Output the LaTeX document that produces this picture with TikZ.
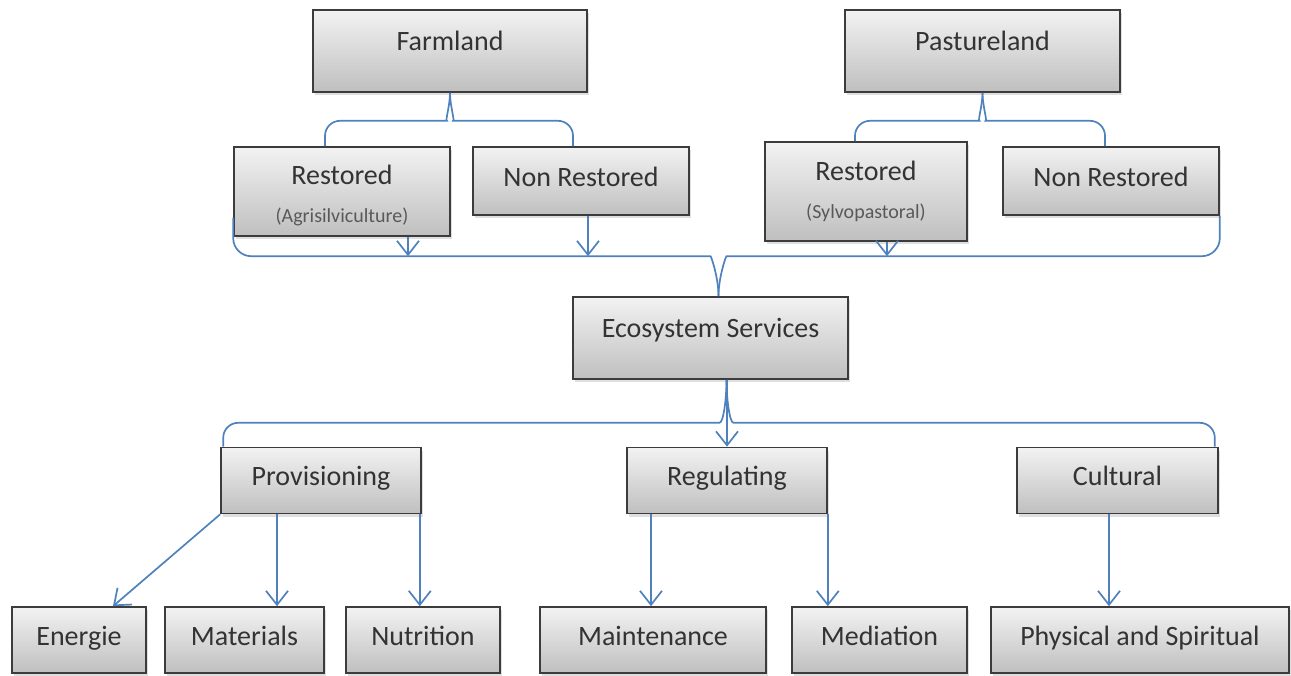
\documentclass[tikz,border=0pt]{standalone}
\usepackage{fontspec}
\setmainfont{Carlito}
\usepackage{tikz}
\usetikzlibrary{positioning, arrows.meta, shadows}

\definecolor{linkblue}{HTML}{4F81BD}
\definecolor{boxline}{HTML}{3C3C3C}

\begin{document}
\begin{tikzpicture}[x=1pt, y=1pt,
    box/.style={draw=boxline, line width=1.6pt, top color=gray!10, bottom color=gray!50,
        drop shadow={shadow xshift=2pt, shadow yshift=-3pt, opacity=0.25},
        align=center, font=\fontsize{28}{30}\selectfont, text=black!80, inner sep=2pt},
    onebox/.style={box, minimum height=66pt, text height=20pt, text depth=10pt},
    topbox/.style={box, minimum height=82pt, text height=20pt, text depth=22pt},
    link/.style={draw=linkblue, line width=1.7pt},
    arr/.style={link, -{Straight Barb[length=14pt, width=22pt]}}
]
\useasboundingbox (0,0) rectangle (1291,-675);

\node[topbox, minimum width=274pt] (farm) at (450,-51) {Farmland};
\node[topbox, minimum width=275pt] (past) at (982.5,-51) {Pastureland};

\node[box, minimum width=216pt, minimum height=89pt] (ragri) at (342,-191.5) {\rule{0pt}{28pt}Restored\\[8pt]{\fontsize{20}{22}\selectfont\color{black!65}(Agrisilviculture)}};
\node[onebox, minimum width=216pt, minimum height=68pt] (nrf) at (581,-181) {Non Restored};
\node[box, minimum width=202pt, minimum height=99pt] (rsyl) at (866,-191.5) {Restored\\[8pt]{\fontsize{20}{22}\selectfont\color{black!65}(Sylvopastoral)}};
\node[onebox, minimum width=216pt, minimum height=68pt] (nrp) at (1111,-181) {Non Restored};

\node[topbox, minimum width=275pt] (eco) at (710.5,-338) {Ecosystem Services};

\node[onebox, minimum width=200pt] (prov) at (321,-480.5) {Provisioning};
\node[onebox, minimum width=200pt] (reg) at (727,-480.5) {Regulating};
\node[onebox, minimum width=201pt] (cult) at (1117.5,-480.5) {Cultural};

\node[onebox, minimum width=134pt] (energ) at (79,-640) {Energie};
\node[onebox, minimum width=159pt] (mat) at (244.5,-640) {Materials};
\node[onebox, minimum width=154pt] (nutr) at (423,-640) {Nutrition};
\node[onebox, minimum width=226pt] (maint) at (653,-640) {Maintenance};
\node[onebox, minimum width=175pt] (medi) at (879.5,-640) {Mediation};
\node[onebox, minimum width=298pt] (phys) at (1140,-640) {Physical and Spiritual};

\coordinate (fb) at ([yshift=-28pt]farm.south);
\coordinate (pb) at ([yshift=-28pt]past.south);
\coordinate (eb) at ([xshift=8pt, yshift=40pt]eco.north);
\coordinate (sb) at ([xshift=16pt, yshift=-43pt]eco.south);

\draw[link, rounded corners=15pt] ([xshift=-17pt]ragri.north) |- ([xshift=-18pt]fb) to[out=0, in=-90] (farm.south);
\draw[link, rounded corners=15pt] (farm.south) to[out=-90, in=180] ([xshift=18pt]fb) -| ([xshift=-8pt]nrf.north);
\draw[link, rounded corners=15pt] ([xshift=-11pt]rsyl.north) |- ([xshift=-18pt]pb) to[out=0, in=-90] (past.south);
\draw[link, rounded corners=15pt] (past.south) to[out=-90, in=180] ([xshift=18pt]pb) -| ([xshift=-6pt]nrp.north);

\draw[link, rounded corners=18pt] ([yshift=19pt]ragri.south west) |- ([xshift=-26pt]eb) to[out=0, in=90] ([xshift=8pt]eco.north);
\draw[link, rounded corners=18pt] ([xshift=8pt]eco.north) to[out=90, in=180] ([xshift=26pt]eb) -| (nrp.south east);
\draw[arr] ([xshift=66pt]ragri.south) -- ([xshift=66pt]ragri.south |- eb);
\draw[arr] ([xshift=7pt]nrf.south) -- ([xshift=7pt]nrf.south |- eb);
\draw[arr] ([xshift=21pt]rsyl.south) -- ([xshift=21pt]rsyl.south |- eb);

\draw[link, rounded corners=15pt] ([xshift=3pt]prov.north west) |- ([xshift=-22pt]sb) to[out=0, in=-90] ([xshift=16pt]eco.south);
\draw[link, rounded corners=15pt] ([xshift=16pt]eco.south) to[out=-90, in=180] ([xshift=22pt]sb) -| ([xshift=-4pt]cult.north east);
\draw[arr] (reg.north |- eco.south) -- (reg.north);

\draw[arr] (prov.south west) -- ([xshift=34pt]energ.north);
\draw[arr] ([xshift=-44pt]prov.south) -- ([xshift=-44pt]prov.south |- mat.north);
\draw[arr] ([xshift=-2pt]prov.south east) -- ([xshift=-2pt]prov.south east |- nutr.north);
\draw[arr] ([xshift=-76pt]reg.south) -- ([xshift=-76pt]reg.south |- maint.north);
\draw[arr] (reg.south east) -- (reg.south east |- medi.north);
\draw[arr] ([xshift=-8.5pt]cult.south) -- ([xshift=-8.5pt]cult.south |- phys.north);
\end{tikzpicture}
\end{document}
